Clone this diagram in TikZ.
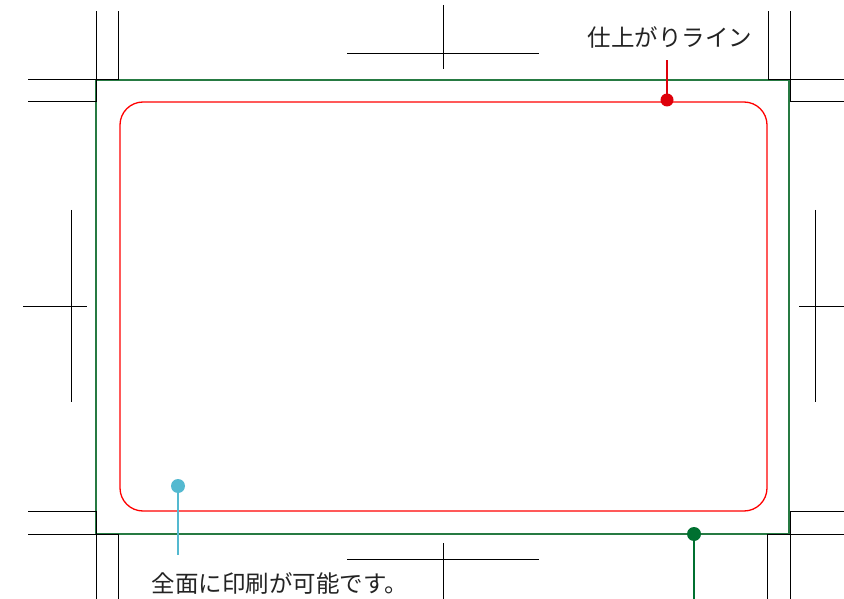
\documentclass[tikz,border=0pt]{standalone}
\usepackage{fontspec}
\newfontfamily\jpfont{Noto Sans CJK JP}
\definecolor{bleedgreen}{RGB}{38,122,66}
\definecolor{dotgreen}{RGB}{0,112,48}
\definecolor{finishred}{RGB}{222,0,10}
\definecolor{printcyan}{RGB}{84,185,208}
\definecolor{labelgray}{RGB}{35,35,35}
\tikzset{
  callout/.style={line width=2pt},
  calltext/.style={text=labelgray, inner sep=0pt, font=\jpfont\fontsize{23.5}{28}\selectfont},
}
\begin{document}
\begin{tikzpicture}[x=1pt, y=-1pt, line width=.9pt]
\clip (0,0) rectangle (844,599);

% bleed and finish lines
\draw[bleedgreen, line width=1.3pt] (96,80) rectangle (789,534);
\draw[red, line width=1.3pt, rounded corners=23pt] (120,102) rectangle (767,511);

% corner marks
\draw (28,79)--(118,79)--(118,11);
\draw (28,101)--(96,101)--(96,11);
\draw (860,79)--(768,79)--(768,11);
\draw (860,101)--(790,101)--(790,11);
\draw (28,534)--(118,534)--(118,610);
\draw (28,511)--(96,511)--(96,610);
\draw (860,534)--(767,534)--(767,610);
\draw (860,511)--(790,511)--(790,610);

% centre marks
\draw (443,5)--(443,69) (347,53)--(539,53);
\draw (443,543)--(443,610) (347,559)--(539,559);
\draw (71,210)--(71,402) (23,306)--(87,306);
\draw (815,210)--(815,402) (799,306)--(863,306);

% callouts
\coordinate (finishdot) at (667,100);
\coordinate (finishtip) at (667,60);
\coordinate (printdot) at (178,486);
\coordinate (printtip) at (178,555);
\coordinate (bleeddot) at (694,534);
\coordinate (bleedtip) at (694,610);

\draw[callout, finishred] (finishdot)--(finishtip);
\fill[finishred] (finishdot) circle (6.5pt);
\draw[callout, printcyan] (printdot)--(printtip);
\fill[printcyan] (printdot) circle (7pt);
\draw[callout, dotgreen] (bleeddot)--(bleedtip);
\fill[dotgreen] (bleeddot) circle (7pt);

\node[calltext] (finishlabel) at (670,37) {仕上がりライン};
\node[calltext] (printlabel) at (280,583) {全面に印刷が可能です。};

\end{tikzpicture}
\end{document}
